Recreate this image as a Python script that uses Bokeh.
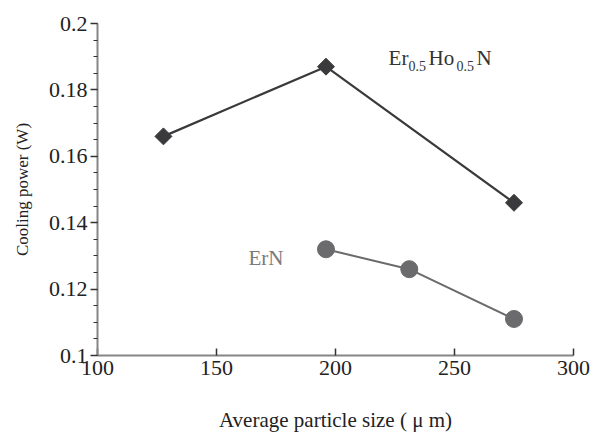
from bokeh.plotting import figure
from bokeh.models import FixedTicker, Label
from bokeh.embed import file_html
from bokeh.resources import INLINE

# Data
erho_size = [127.7, 196, 275]
erho_power = [0.166, 0.187, 0.146]
ern_size = [196, 231, 275]
ern_power = [0.132, 0.126, 0.111]

x_ticks = [100, 150, 200, 250, 300]
y_ticks = [0.1, 0.12, 0.14, 0.16, 0.18, 0.2]
y_tick_labels = ["0.1", "0.12", "0.14", "0.16", "0.18", "0.2"]
y_minor = [round(0.1 + 0.005 * i, 3) for i in range(21)]
x_title = "Average particle size ( \u03bc m)"
y_title = "Cooling power (W)"

FONT = "Liberation Serif"

p = figure(width=598, height=434, x_range=(100, 300), y_range=(0.1, 0.2),
           output_backend="svg", toolbar_location=None,
           min_border_left=97, min_border_right=25, min_border_top=23, min_border_bottom=78)
p.outline_line_color = None
p.xgrid.visible = False
p.ygrid.visible = False

# Series
p.line(erho_size, erho_power, line_color="#3a3a3c", line_width=2.2)
p.scatter(erho_size, erho_power, marker="square", size=12, angle=0.7854,
          fill_color="#3a3a3c", line_color="#3a3a3c")
p.line(ern_size, ern_power, line_color="#6b6b6d", line_width=2)
p.scatter(ern_size, ern_power, marker="circle", size=17,
          fill_color="#6b6b6d", line_color="#6b6b6d")

# Axes
xa = p.xaxis[0]
xa.ticker = FixedTicker(ticks=x_ticks)
xa.major_tick_in = 7
xa.major_tick_out = 0
xa.minor_tick_line_color = None
xa.axis_line_color = "#858585"
xa.axis_line_width = 2
xa.major_tick_line_color = "#333333"
xa.major_tick_line_width = 1.5
xa.major_label_text_font = FONT
xa.major_label_text_font_size = "22px"
xa.major_label_text_color = "#222222"
xa.major_label_text_line_height = 0.9
xa.major_label_standoff = 5
xa.axis_label = x_title
xa.axis_label_text_font = FONT
xa.axis_label_text_font_size = "21px"
xa.axis_label_text_font_style = "normal"
xa.axis_label_text_color = "#222222"
xa.axis_label_text_line_height = 0.9
xa.axis_label_standoff = 30

ya = p.yaxis[0]
ya.ticker = FixedTicker(ticks=y_ticks, minor_ticks=y_minor)
ya.major_label_overrides = {t: s for t, s in zip(y_ticks, y_tick_labels)}
ya.major_tick_in = 0
ya.major_tick_out = 7
ya.minor_tick_in = 0
ya.minor_tick_out = 4
ya.axis_line_color = "#858585"
ya.axis_line_width = 2
ya.major_tick_line_color = "#333333"
ya.major_tick_line_width = 1.5
ya.minor_tick_line_color = "#333333"
ya.minor_tick_line_width = 1
ya.major_label_text_font = FONT
ya.major_label_text_font_size = "22px"
ya.major_label_text_color = "#222222"
ya.major_label_standoff = 3
ya.axis_label = y_title
ya.axis_label_text_font = FONT
ya.axis_label_text_font_size = "17px"
ya.axis_label_text_font_style = "normal"
ya.axis_label_text_color = "#222222"
ya.axis_label_standoff = 14

# Series labels
lab_x = 222.3
lab_y = 0.1895
parts = [("Er", 0, 0, "21px"), ("0.5", 20, -8, "14px"), ("Ho", 40, 0, "21px"),
         ("0.5", 68, -8, "14px"), ("N", 88, 0, "21px")]
for txt, dx, dy, fs in parts:
    p.add_layout(Label(x=lab_x, y=lab_y, x_offset=dx, y_offset=dy, text=txt,
                       text_font=FONT, text_font_size=fs, text_color="#333333",
                       text_baseline="alphabetic", text_align="left"))
p.add_layout(Label(x=163.4, y=0.1295, text="ErN", text_font=FONT, text_font_size="21px",
                   text_color="#7a7a7a", text_baseline="alphabetic", text_align="left"))

open("out.html", "w").write(file_html(p, INLINE))
